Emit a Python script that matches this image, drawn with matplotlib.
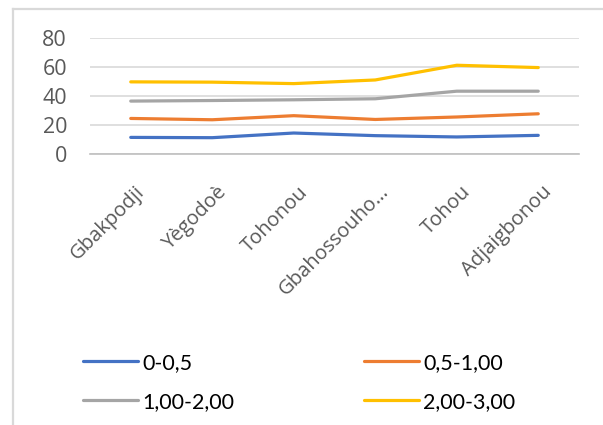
import matplotlib
matplotlib.use("Agg")
import matplotlib.pyplot as plt
from matplotlib.lines import Line2D
from matplotlib.transforms import ScaledTranslation

# villages et séries par classe
villages = ["Gbakpodji", "Yègodoè", "Tohonou", "Gbahossouho…", "Tohou", "Adjaigbonou"]
classe_0_05 = [11.6, 11.4, 14.6, 12.8, 11.9, 13.0]
classe_05_1 = [24.6, 23.7, 26.5, 23.9, 25.6, 27.8]
classe_1_2 = [36.5, 36.9, 37.4, 38.1, 43.3, 43.3]
classe_2_3 = [49.7, 49.5, 48.5, 51.0, 61.1, 59.5]
series_labels = ["0-0,5", "0,5-1,00", "1,00-2,00", "2,00-3,00"]
y_ticks = [0, 20, 40, 60, 80]

COLORS = ["#4472C4", "#ED7D31", "#A5A5A5", "#FFC000"]

W, H = 603, 425
fig = plt.figure(figsize=(W / 100, H / 100), dpi=100)

# cadre gris (haut et gauche)
fig.add_artist(Line2D([12.5 / W, 12.5 / W], [0, 1 - 8.5 / H],
                      transform=fig.transFigure, color="#d9d9d9", lw=1.6))
fig.add_artist(Line2D([12.5 / W, 1], [1 - 8.5 / H, 1 - 8.5 / H],
                      transform=fig.transFigure, color="#d9d9d9", lw=1.6))

ax = fig.add_axes([90 / W, 1 - 154.3 / H, 489 / W, 116.6 / H])
x = range(len(villages))
all_series = [classe_0_05, classe_05_1, classe_1_2, classe_2_3]
for vals, color, lab in zip(all_series, COLORS, series_labels):
    ax.plot(x, vals, color=color, lw=2.3, solid_capstyle="round", label=lab, zorder=3)

ax.set_xlim(-0.5, len(villages) - 0.5)
ax.set_ylim(0, 80)
ax.set_yticks(y_ticks)
ax.yaxis.grid(True, color="#d9d9d9", lw=1.2)
ax.set_axisbelow(True)
for side in ("left", "right", "top"):
    ax.spines[side].set_visible(False)
ax.spines["bottom"].set_color("#bfbfbf")
ax.spines["bottom"].set_linewidth(1.2)
ax.tick_params(axis="both", length=0)
ax.tick_params(axis="y", pad=16.5, labelcolor="#595959")
for lbl in ax.get_yticklabels():
    lbl.set_fontfamily("Open Sans")
    lbl.set_fontsize(15.5)

ax.set_xticks(list(x))
ax.set_xticklabels(villages, rotation=45, ha="right", va="top",
                   rotation_mode="anchor", fontfamily="Open Sans",
                   fontsize=14.5, color="#595959")
ax.tick_params(axis="x", pad=20)
shift = ScaledTranslation(4 / 100, 0, fig.dpi_scale_trans)
for lbl in ax.get_xticklabels():
    lbl.set_transform(lbl.get_transform() + shift)

# légende sur deux colonnes, remplie ligne par ligne
handles, labels = ax.get_legend_handles_labels()
order = [0, 2, 1, 3]
fig.legend([handles[i] for i in order], [labels[i] for i in order], ncol=2,
           loc="center left", bbox_to_anchor=(64 / W, 1 - 382.5 / H), frameon=False,
           prop={"family": "Lato", "size": 15.5}, handlelength=2.55,
           handletextpad=0.2, columnspacing=6.0, labelspacing=0.88)

fig.savefig("out.png", dpi=100)
